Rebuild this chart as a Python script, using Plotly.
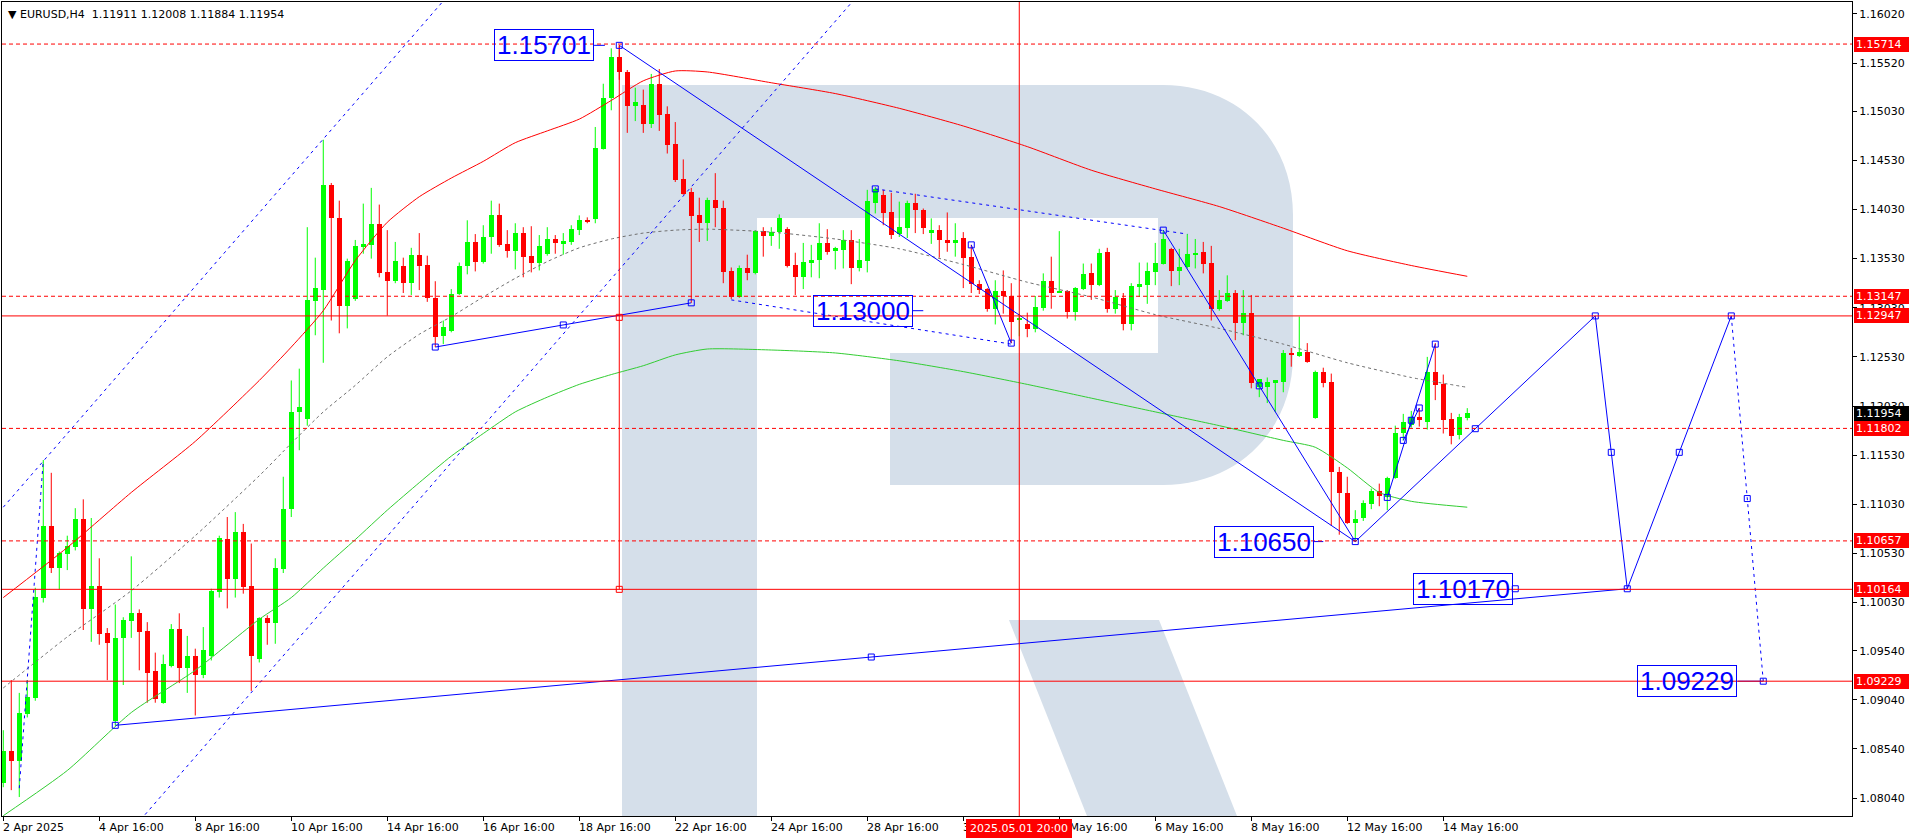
import plotly.graph_objects as go

# ---------------- candle data (H4 bars, index 0 = 2 Apr 2025) ----------------
open_ = [1.0819,1.0852,1.0842,1.0890,1.0906,1.1008,1.1081,1.1038,1.1052,1.1060,
         1.1088,1.0996,1.1020,1.0972,1.0882,1.0967,1.0984,1.0992,1.0974,1.0933,
         1.0901,1.0938,1.0976,1.0936,1.0949,1.0929,1.0949,1.1014,1.1068,1.1027,
         1.1075,1.1020,1.0945,1.0987,1.0982,1.1037,1.1098,1.1197,1.1190,1.1310,
         1.1321,1.1428,1.1394,1.1305,1.1312,1.1365,1.1367,1.1388,1.1339,1.1330,
         1.1345,1.1328,1.1357,1.1347,1.1313,1.1274,1.1279,1.1317,1.1346,1.1370,
         1.1350,1.1375,1.1397,1.1368,1.1361,1.1379,1.1356,1.1349,1.1358,1.1373,
         1.1368,1.1370,1.1382,1.1392,1.1393,1.1465,1.1516,1.1558,1.1543,1.1508,
         1.1509,1.1490,1.1531,1.1500,1.1470,1.1434,1.1421,1.1397,1.1389,1.1413,
         1.1405,1.1340,1.1314,1.1343,1.1338,1.1381,1.1376,1.1380,1.1383,1.1347,
         1.1334,1.1349,1.1352,1.1369,1.1361,1.1362,1.1372,1.1343,1.1351,1.1410,
         1.1418,1.1400,1.1378,1.1384,1.1410,1.1403,1.1379,1.1382,1.1372,1.1369,
         1.1374,1.1355,1.1327,1.1322,1.1302,1.1320,1.1315,1.1291,1.1286,1.1281,
         1.1303,1.1330,1.1319,1.1320,1.1299,1.1322,1.1338,1.1326,1.1360,1.1302,
         1.1313,1.1286,1.1325,1.1326,1.1339,1.1348,1.1363,1.1340,1.1344,1.1357,
         1.1360,1.1349,1.1302,1.1310,1.1318,1.1287,1.1298,1.1222,1.1222,1.1227,
         1.1227,1.1257,1.1254,1.1258,1.1191,1.1238,1.1227,1.1136,1.1114,1.1084,
         1.1089,1.1103,1.1117,1.1110,1.1130,1.1176,1.1184,1.1192,1.1187,1.1238,
         1.1225,1.1190,1.1173,1.11911]
high = [1.0873,1.0924,1.0911,1.0924,1.1018,1.1148,1.1135,1.1055,1.1071,1.1099,
        1.1108,1.1089,1.1048,1.0977,1.1001,1.0988,1.1050,1.0996,1.0983,1.0952,
        1.0950,1.0981,1.0992,1.0969,1.0956,1.0978,1.1017,1.1071,1.1090,1.1095,
        1.1083,1.1063,1.0988,1.0990,1.1048,1.1131,1.1229,1.1241,1.1385,1.1354,
        1.1474,1.1430,1.1412,1.1353,1.1372,1.1409,1.1425,1.1408,1.1382,1.1370,
        1.1354,1.1364,1.1379,1.1356,1.1330,1.1290,1.1322,1.1349,1.1392,1.1378,
        1.1387,1.1412,1.1409,1.1382,1.1389,1.1385,1.1386,1.1377,1.1385,1.1377,
        1.1379,1.1387,1.1397,1.1395,1.1487,1.1531,1.1567,1.15701,1.1545,1.1527,
        1.1525,1.1541,1.1546,1.1508,1.1492,1.1454,1.1425,1.1415,1.1415,1.1440,
        1.1412,1.1344,1.1346,1.1357,1.1382,1.1385,1.1385,1.1398,1.1385,1.1359,
        1.1369,1.1367,1.1389,1.1383,1.1365,1.1382,1.1382,1.1373,1.1423,1.1426,
        1.1423,1.1420,1.1411,1.1412,1.1419,1.1404,1.1394,1.1387,1.1400,1.1389,
        1.1380,1.1367,1.1331,1.1323,1.1331,1.1341,1.1328,1.1297,1.1298,1.1315,
        1.1338,1.1355,1.1381,1.1321,1.1324,1.1348,1.1348,1.1363,1.1364,1.1321,
        1.1318,1.1328,1.1349,1.1349,1.1369,1.1382,1.1364,1.1363,1.1378,1.1373,
        1.1370,1.1366,1.1321,1.1336,1.1321,1.1321,1.1316,1.1230,1.1232,1.1229,
        1.1260,1.1262,1.1294,1.1267,1.1239,1.1242,1.1236,1.1141,1.1131,1.1097,
        1.1107,1.1119,1.1124,1.1131,1.1183,1.1195,1.1198,1.1201,1.1253,1.12671,
        1.1235,1.1196,1.1195,1.12008]
low = [1.0815,1.0812,1.0805,1.0886,1.0903,1.1003,1.1033,1.1016,1.1036,1.1056,
       1.0975,1.0963,1.0960,1.0924,1.0878,1.0919,1.0967,1.0934,1.0901,1.0901,
       1.0900,1.0937,1.0921,1.0911,1.0888,1.0926,1.0944,1.1008,1.0997,1.1008,
       1.1012,1.0913,1.0942,1.0960,1.0961,1.1033,1.1090,1.1158,1.1183,1.1275,
       1.1247,1.1290,1.1277,1.1282,1.1310,1.1358,1.1353,1.1334,1.1295,1.1328,
       1.1318,1.1316,1.1321,1.1309,1.1263,1.1266,1.1278,1.1316,1.1337,1.1340,
       1.1348,1.1358,1.1365,1.1354,1.1342,1.1334,1.1339,1.1341,1.1356,1.1358,
       1.1357,1.1367,1.1377,1.1389,1.1389,1.1464,1.1504,1.1535,1.1481,1.1493,
       1.1481,1.1486,1.1483,1.1460,1.1431,1.1418,1.1308,1.1370,1.1371,1.1385,
       1.1328,1.1312,1.1313,1.1331,1.1337,1.1355,1.1366,1.1363,1.1344,1.1316,
       1.1322,1.1334,1.1333,1.1357,1.1342,1.1343,1.1327,1.1340,1.1339,1.1399,
       1.1387,1.1373,1.1375,1.1374,1.1379,1.1378,1.1368,1.1354,1.1360,1.1355,
       1.1323,1.1318,1.1317,1.1299,1.1286,1.1297,1.1267,1.1274,1.1273,1.1278,
       1.1300,1.1302,1.1318,1.1292,1.1290,1.1321,1.1311,1.1325,1.1298,1.1297,
       1.1280,1.1280,1.1314,1.1307,1.1326,1.1347,1.1325,1.1326,1.1343,1.1343,
       1.1338,1.1290,1.1300,1.1309,1.1270,1.1275,1.1221,1.1212,1.1206,1.1197,
       1.1217,1.1243,1.1253,1.1247,1.1190,1.1222,1.1081,1.1072,1.1083,1.1065,
       1.1086,1.1098,1.1101,1.1097,1.1129,1.1168,1.1181,1.1182,1.1179,1.1209,
       1.1175,1.1164,1.1169,1.11884]
close = [1.0852,1.0842,1.0891,1.0907,1.1009,1.1081,1.1038,1.1053,1.1061,1.1088,
         1.0996,1.1020,1.0971,1.0962,1.0967,1.0985,1.0992,1.0973,1.0931,1.0905,
         1.0940,1.0976,1.0936,1.0949,1.0929,1.0955,1.1015,1.1069,1.1027,1.1075,
         1.1019,1.0949,1.0987,1.0982,1.1038,1.1098,1.1197,1.1202,1.1311,1.1323,
         1.1428,1.1394,1.1305,1.1351,1.1366,1.1368,1.1388,1.1338,1.1330,1.1351,
         1.1328,1.1357,1.1346,1.1313,1.1273,1.1283,1.1317,1.1346,1.1370,1.1350,
         1.1375,1.1397,1.1367,1.1361,1.1379,1.1355,1.1349,1.1366,1.1373,1.1369,
         1.1371,1.1383,1.1392,1.1391,1.1466,1.1517,1.1558,1.1543,1.1508,1.1512,
         1.1490,1.1531,1.1499,1.1469,1.1433,1.1419,1.1396,1.1389,1.1413,1.1405,
         1.1339,1.1314,1.1343,1.1338,1.1381,1.1376,1.1380,1.1394,1.1346,1.1334,
         1.1350,1.1352,1.1369,1.1360,1.1364,1.1372,1.1343,1.1352,1.1412,1.1424,
         1.1399,1.1377,1.1385,1.1410,1.1402,1.1384,1.1382,1.1372,1.1369,1.1372,
         1.1354,1.1327,1.1321,1.1302,1.1320,1.1315,1.1289,1.1293,1.1281,1.1304,
         1.1330,1.1318,1.1320,1.1299,1.1323,1.1337,1.1326,1.1359,1.1302,1.1314,
         1.1286,1.1325,1.1327,1.1340,1.1349,1.1373,1.1340,1.1344,1.1358,1.1358,
         1.1348,1.1302,1.1311,1.1318,1.1287,1.1298,1.1226,1.1230,1.1227,1.1229,
         1.1257,1.1255,1.1258,1.1248,1.1238,1.1226,1.1136,1.1114,1.1084,1.1088,
         1.1104,1.1117,1.1111,1.1130,1.1176,1.1187,1.1192,1.1189,1.1238,1.1224,
         1.1189,1.1172,1.1192,1.11954]
bar_index = list(range(len(close)))

# ---------------- moving averages (read at sample bars) ----------------
ma_red_x = [0,8,16,24,32,36,40,44,48,52,56,60,64,68,72,76,80,84,88,96,104,112,120,128,136,144,152,160,168,176,183]
ma_red_y = [1.1008,1.1059,1.1115,1.1167,1.1229,1.1263,1.1300,1.1351,1.1390,1.1416,1.1435,1.1452,1.1471,1.1483,1.1495,
            1.1514,1.1534,1.1544,1.1543,1.1532,1.1521,1.1506,1.1488,1.1467,1.1443,1.1424,1.1406,1.1384,1.1361,1.1346,1.1335]
ma_green_x = [0,8,16,24,32,36,40,44,48,52,56,60,64,68,72,76,80,84,88,96,104,112,120,128,136,144,152,160,164,168,172,176,183]
ma_green_y = [1.0786,1.0832,1.0891,1.0934,1.0986,1.1008,1.1038,1.1067,1.1097,1.1125,1.1152,1.1175,1.1197,1.1212,1.1225,
              1.1235,1.1244,1.1255,1.1261,1.1260,1.1257,1.1249,1.1238,1.1225,1.1211,1.1197,1.1183,1.1168,1.1161,1.1140,
              1.1115,1.1106,1.1100]
ma_gray_x = [0,8,16,24,32,36,40,44,48,52,56,60,64,68,72,76,80,84,88,96,104,112,120,128,136,144,152,160,168,176,183]
ma_gray_y = [1.0916,1.0968,1.1015,1.1071,1.1132,1.1165,1.1197,1.1224,1.1253,1.1276,1.1294,1.1314,1.1333,1.1350,1.1364,
             1.1373,1.1379,1.1382,1.1383,1.1380,1.1373,1.1363,1.1347,1.1329,1.1314,1.1296,1.1282,1.1266,1.1247,1.1232,1.1222]

# ---------------- axes ----------------
time_tick_idx = [0,12,24,36,48,60,72,84,96,108,120,132,144,156,168,180]
time_tick_text = ["2 Apr 2025","4 Apr 16:00","8 Apr 16:00","10 Apr 16:00","14 Apr 16:00","16 Apr 16:00",
                  "18 Apr 16:00","22 Apr 16:00","24 Apr 16:00","28 Apr 16:00","30 Apr 16:00","2 May 16:00",
                  "6 May 16:00","8 May 16:00","12 May 16:00","14 May 16:00"]
price_tick_vals = [1.16020,1.15520,1.15030,1.14530,1.14030,1.13530,1.13030,1.12530,1.12030,
                   1.11530,1.11030,1.10530,1.10030,1.09540,1.09040,1.08540,1.08040]
x_range = [-0.16, 231.09]
y_range = [1.07857, 1.16142]

# ---------------- horizontal levels ----------------
level_dashed = [1.15714, 1.13147, 1.11802, 1.10657]
level_solid = [1.12947, 1.10164, 1.09229]
current_price = 1.11954
vline_idx = 127
vline_text = "2025.05.01 20:00"
header_text = "▼ EURUSD,H4  1.11911 1.12008 1.11884 1.11954"

# ---------------- blue drawing objects ----------------
solid_lines = {
    "long":   ([14, 203], [1.0878, 1.1017]),
    "supp":   ([54, 86], [1.1263, 1.1308]),
    "drop":   ([77, 169], [1.15701, 1.1065]),
    "wave":   ([145, 169], [1.1382, 1.1065]),
    "short":  ([121, 126], [1.1367, 1.1267]),
    "up1":    ([173, 179], [1.1110, 1.1266]),
    "up2":    ([175, 177], [1.1168, 1.1201]),
    "fcst":   ([169, 199, 203, 216], [1.1065, 1.12947, 1.1017, 1.12947]),
    "stub1":  ([73.85, 75.2], [1.15701, 1.15701]),
    "stub2":  ([113.7, 115.0], [1.1300, 1.1300]),
    "stub3":  ([163.8, 165.0], [1.1065, 1.1065]),
    "stub4":  ([216.8, 220.0], [1.09229, 1.09229]),
}
dashed_lines = {
    "chan_up":  ([0, 57], [1.1100, 1.1634]),
    "chan_dn":  ([16, 108], [1.0771, 1.1632]),
    "spike":    ([2, 5], [1.0814, 1.1148]),
    "desc_up":  ([109, 148], [1.1424, 1.1378]),
    "desc_dn":  ([91, 126], [1.1311, 1.1266]),
    "fc_tail":  ([216, 220], [1.12947, 1.09229]),
}
square_x = [14,108.5,203,54,70,86,77,145,157,169,121,126,173,176,179,175,177,184,199,201,209.5,216,218,220,189,109]
square_y = [1.0878,1.09475,1.1017,1.1263,1.12855,1.1308,1.15701,1.1382,1.12235,1.1065,1.1367,1.1267,1.1110,1.11885,
            1.1266,1.1168,1.1201,1.11799,1.12947,1.115585,1.115585,1.12947,1.11088,1.09229,1.1017,1.1424]
red_seg_x = [77, 77]
red_seg_y = [1.15701, 1.10164]
red_square_y = [1.129325, 1.10164]

label_text = ["1.15701", "1.13000", "1.10650", "1.10170", "1.09229"]
label_x = [73.85, 113.7, 163.8, 188.7, 216.7]
label_y = [1.15701, 1.13000, 1.10650, 1.10170, 1.09229]

# ---------------- styles ----------------
BULL = "#00FF00"
BEAR = "#FF0000"
BLUE = "#0000FF"
RED = "#FF0000"
FONT = "DejaVu Sans"
W, H = 1916, 840
ML, MR, MT, MB = 2, 64, 2, 24

fig = go.Figure()

# wicks
for color, cond in ((BULL, True), (BEAR, False)):
    wx, wy = [], []
    for i in bar_index:
        if (close[i] >= open_[i]) == cond:
            wx += [i, i, None]
            wy += [low[i], high[i], None]
    fig.add_trace(go.Scatter(x=wx, y=wy, mode="lines", line=dict(color=color, width=1),
                             hoverinfo="skip", showlegend=False))
# bodies
for color, cond in ((BULL, True), (BEAR, False)):
    bx = [i for i in bar_index if (close[i] >= open_[i]) == cond]
    base = [min(open_[i], close[i]) for i in bx]
    hgt = [max(abs(close[i] - open_[i]), 0.0001) for i in bx]
    fig.add_trace(go.Bar(x=bx, y=hgt, base=base, width=0.62, marker=dict(color=color, line=dict(width=0)),
                         hoverinfo="skip", showlegend=False))

# moving averages
fig.add_trace(go.Scatter(x=ma_red_x, y=ma_red_y, mode="lines", line=dict(color="#FF0000", width=1, shape="spline", smoothing=0.6),
                         hoverinfo="skip", showlegend=False))
fig.add_trace(go.Scatter(x=ma_green_x, y=ma_green_y, mode="lines", line=dict(color="#32CD32", width=1, shape="spline", smoothing=0.6),
                         hoverinfo="skip", showlegend=False))
fig.add_trace(go.Scatter(x=ma_gray_x, y=ma_gray_y, mode="lines", line=dict(color="#707070", width=1, dash="3px,3px", shape="spline", smoothing=0.6),
                         hoverinfo="skip", showlegend=False))

# blue lines
sx, sy = [], []
for xs, ys in solid_lines.values():
    sx += xs + [None]
    sy += ys + [None]
fig.add_trace(go.Scatter(x=sx, y=sy, mode="lines", line=dict(color=BLUE, width=1), hoverinfo="skip", showlegend=False))
for xs, ys in dashed_lines.values():
    fig.add_trace(go.Scatter(x=xs, y=ys, mode="lines", line=dict(color=BLUE, width=1, dash="3px,4px"),
                             hoverinfo="skip", showlegend=False))
# red vertical segment
fig.add_trace(go.Scatter(x=red_seg_x, y=red_seg_y, mode="lines", line=dict(color=RED, width=1), hoverinfo="skip", showlegend=False))
fig.add_trace(go.Scatter(x=[77, 77], y=red_square_y, mode="markers",
                         marker=dict(symbol="square-open", size=6, color=RED, line=dict(width=1)),
                         hoverinfo="skip", showlegend=False))
fig.add_trace(go.Scatter(x=square_x, y=square_y, mode="markers",
                         marker=dict(symbol="square-open", size=6, color=BLUE, line=dict(width=1, color=BLUE)),
                         hoverinfo="skip", showlegend=False))

# ---------------- shapes ----------------
shapes = []
def P(xp, yp):
    return f"{(xp - ML) / (W - ML - MR):.5f},{(H - MB - yp) / (H - MT - MB):.5f}"

r_body = ("M " + P(622, 816) + " L " + P(622, 85) + " L " + P(1163, 85) +
          " C " + P(1238, 85) + " " + P(1293, 140) + " " + P(1293, 215) +
          " L " + P(1293, 355) +
          " C " + P(1293, 430) + " " + P(1238, 485) + " " + P(1163, 485) +
          " L " + P(890, 485) + " L " + P(890, 353) + " L " + P(1158, 353) +
          " L " + P(1158, 218) + " L " + P(757, 218) + " L " + P(757, 816) + " Z")
r_leg = "M " + P(1009, 620) + " L " + P(1159, 620) + " L " + P(1237, 816) + " L " + P(1087, 816) + " Z"
for pth in (r_body, r_leg):
    shapes.append(dict(type="path", xref="paper", yref="paper", path=pth, fillcolor="#D5DFEA",
                       line=dict(width=0), layer="below"))

for lv in level_dashed:
    shapes.append(dict(type="line", xref="paper", x0=0, x1=1, yref="y", y0=lv, y1=lv,
                       line=dict(color=RED, width=1, dash="4px,3px")))
for lv in level_solid:
    shapes.append(dict(type="line", xref="paper", x0=0, x1=1, yref="y", y0=lv, y1=lv,
                       line=dict(color=RED, width=1)))
shapes.append(dict(type="line", xref="x", x0=vline_idx, x1=vline_idx, yref="paper", y0=0, y1=1,
                   line=dict(color=RED, width=1)))

# ---------------- annotations ----------------
ann = []
ann.append(dict(text=header_text, xref="paper", yref="paper", x=0, y=1, xanchor="left", yanchor="top",
                xshift=4, yshift=-4, showarrow=False, font=dict(family=FONT, size=11, color="black")))
for xi, tt in zip(time_tick_idx, time_tick_text):
    ann.append(dict(text=tt, xref="x", yref="paper", x=xi, y=0, xanchor="left", yanchor="top",
                    xshift=-2, yshift=-3, showarrow=False, font=dict(family=FONT, size=11, color="black")))
ann.append(dict(text=vline_text, xref="x", yref="paper", x=vline_idx, y=0, xanchor="center", yanchor="top",
                yshift=-3, showarrow=False, bgcolor=RED, bordercolor=RED, borderwidth=1, borderpad=2,
                width=100, font=dict(family=FONT, size=11, color="white")))
for lv in level_dashed + level_solid:
    ann.append(dict(text=f"{lv:.5f}", xref="paper", yref="y", x=1, y=lv, xanchor="left", yanchor="middle",
                    xshift=2, showarrow=False, bgcolor=RED, bordercolor=RED, borderwidth=1, borderpad=1,
                    width=51, height=11, align="left", font=dict(family=FONT, size=11, color="white")))
ann.append(dict(text=f"{current_price:.5f}", xref="paper", yref="y", x=1, y=current_price, xanchor="left",
                yanchor="middle", xshift=2, showarrow=False, bgcolor="black", bordercolor="black", borderwidth=1,
                borderpad=1, width=51, height=11, align="left", font=dict(family=FONT, size=11, color="white")))
for tx, lx, ly in zip(label_text, label_x, label_y):
    ann.append(dict(text=tx, xref="x", yref="y", x=lx, y=ly, xanchor="right", yanchor="middle",
                    showarrow=False, bordercolor=BLUE, borderwidth=1, borderpad=2, width=94, height=26,
                    font=dict(family="Liberation Sans", size=26, color=BLUE)))

fig.update_layout(
    width=W, height=H, margin=dict(l=ML, r=MR, t=MT, b=MB, pad=0),
    plot_bgcolor="white", paper_bgcolor="white", barmode="overlay", bargap=0,
    showlegend=False, shapes=shapes, annotations=ann, hovermode=False,
    xaxis=dict(range=x_range, showgrid=False, zeroline=False, showline=True, linecolor="black", linewidth=1,
               mirror=True, ticks="outside", ticklen=4, tickcolor="black", tickvals=time_tick_idx,
               showticklabels=False, fixedrange=True),
    yaxis=dict(range=y_range, side="right", showgrid=False, zeroline=False, showline=True, linecolor="black",
               linewidth=1, mirror=True, ticks="outside", ticklen=4, tickcolor="black",
               tickvals=price_tick_vals, ticktext=[f"{v:.5f}" for v in price_tick_vals],
               tickfont=dict(family=FONT, size=11, color="black"), fixedrange=True),
)

fig.write_html("out.html", config={"displayModeBar": False},
               post_script="document.body.style.margin='0';document.body.style.overflow='hidden';")
